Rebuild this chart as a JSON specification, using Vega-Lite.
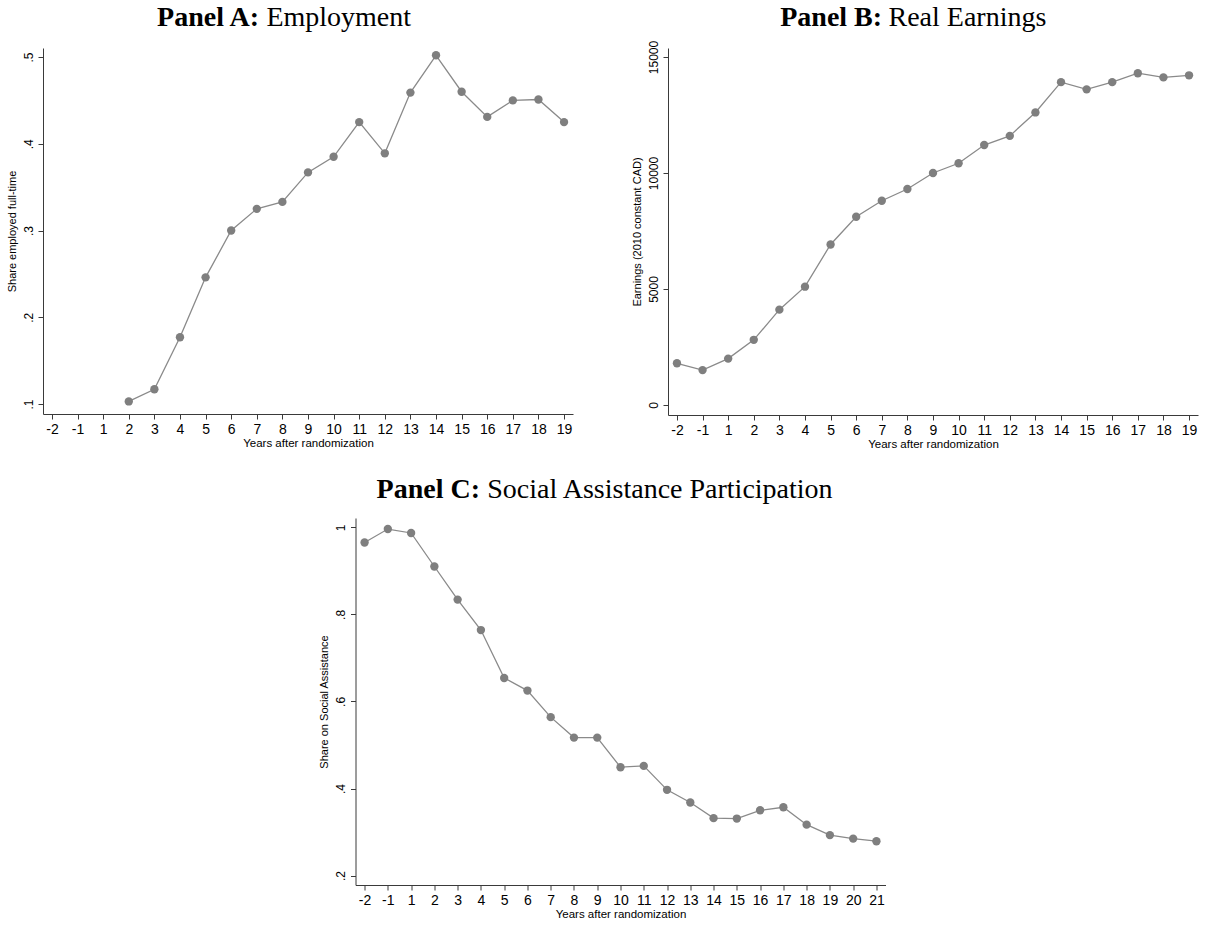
{
  "$schema": "https://vega.github.io/schema/vega-lite/v6.json",
  "background": "white",
  "padding": {"left": 6, "top": 4, "right": 4, "bottom": 0},
  "config": {
    "view": {"stroke": null},
    "font": "Liberation Sans",
    "axis": {
      "grid": false,
      "domainColor": "#3a3a3a",
      "tickColor": "#3a3a3a",
      "labelColor": "#000000",
      "titleColor": "#000000",
      "labelFont": "Liberation Sans",
      "titleFont": "Liberation Sans",
      "titleFontWeight": "normal",
      "tickSize": 5,
      "domainWidth": 1,
      "tickWidth": 1
    },
    "axisX": {"labelAngle": 0, "labelFontSize": 14, "labelPadding": 3, "titleFontSize": 11.5, "titlePadding": 1},
    "axisY": {"labelAngle": -90, "labelFontSize": 12, "labelPadding": 3, "titleFontSize": 11, "titlePadding": 5},
    "title": {
      "font": "Liberation Serif",
      "fontSize": 28,
      "color": "#000000",
      "anchor": "middle"
    },
    "line": {"color": "#8a8a8a", "strokeWidth": 1.3},
    "point": {"color": "#7f7f7f", "filled": true, "opacity": 1, "size": 70}
  },
  "datasets": {
    "emp": [
      {"year": "2", "share": 0.103},
      {"year": "3", "share": 0.117},
      {"year": "4", "share": 0.177},
      {"year": "5", "share": 0.246},
      {"year": "6", "share": 0.300},
      {"year": "7", "share": 0.325},
      {"year": "8", "share": 0.333},
      {"year": "9", "share": 0.367},
      {"year": "10", "share": 0.385},
      {"year": "11", "share": 0.425},
      {"year": "12", "share": 0.389},
      {"year": "13", "share": 0.459},
      {"year": "14", "share": 0.502},
      {"year": "15", "share": 0.460},
      {"year": "16", "share": 0.431},
      {"year": "17", "share": 0.450},
      {"year": "18", "share": 0.451},
      {"year": "19", "share": 0.425}
    ],
    "earn": [
      {"year": "-2", "earnings": 1800},
      {"year": "-1", "earnings": 1505},
      {"year": "1", "earnings": 2000},
      {"year": "2", "earnings": 2810},
      {"year": "3", "earnings": 4110},
      {"year": "4", "earnings": 5100},
      {"year": "5", "earnings": 6920},
      {"year": "6", "earnings": 8115},
      {"year": "7", "earnings": 8805},
      {"year": "8", "earnings": 9310},
      {"year": "9", "earnings": 10000},
      {"year": "10", "earnings": 10420},
      {"year": "11", "earnings": 11205},
      {"year": "12", "earnings": 11600},
      {"year": "13", "earnings": 12610},
      {"year": "14", "earnings": 13915},
      {"year": "15", "earnings": 13605},
      {"year": "16", "earnings": 13915},
      {"year": "17", "earnings": 14300},
      {"year": "18", "earnings": 14120},
      {"year": "19", "earnings": 14210}
    ],
    "sa": [
      {"year": "-2", "share": 0.965},
      {"year": "-1", "share": 0.996},
      {"year": "1", "share": 0.987},
      {"year": "2", "share": 0.910},
      {"year": "3", "share": 0.834},
      {"year": "4", "share": 0.764},
      {"year": "5", "share": 0.654},
      {"year": "6", "share": 0.625},
      {"year": "7", "share": 0.564},
      {"year": "8", "share": 0.517},
      {"year": "9", "share": 0.517},
      {"year": "10", "share": 0.449},
      {"year": "11", "share": 0.452},
      {"year": "12", "share": 0.397},
      {"year": "13", "share": 0.368},
      {"year": "14", "share": 0.332},
      {"year": "15", "share": 0.331},
      {"year": "16", "share": 0.350},
      {"year": "17", "share": 0.357},
      {"year": "18", "share": 0.317},
      {"year": "19", "share": 0.293},
      {"year": "20", "share": 0.285},
      {"year": "21", "share": 0.279}
    ]
  },
  "vconcat": [
    {
      "hconcat": [
        {
          "title": {"text": "Panel A:", "fontWeight": "bold", "align": "right", "dx": -30.5, "offset": -28},
          "vconcat": [
            {
              "title": {"text": "Employment", "fontWeight": "normal", "align": "left", "dx": -41.6, "offset": 16},
              "width": 530,
              "height": 366,
              "data": {"name": "emp"},
              "encoding": {
                "x": {
                  "field": "year", "type": "ordinal", "sort": null,
                  "scale": {"type": "point", "domain": ["-2","-1","1","2","3","4","5","6","7","8","9","10","11","12","13","14","15","16","17","18","19"], "padding": 0.35},
                  "axis": {"title": "Years after randomization"}
                },
                "y": {
                  "field": "share", "type": "quantitative",
                  "scale": {"domain": [0.0885, 0.5104], "nice": false, "zero": false},
                  "axis": {"title": "Share employed full-time", "values": [0.1, 0.2, 0.3, 0.4, 0.5], "labelExpr": "replace(format(datum.value, '~g'), '0.', '.')"}
                }
              },
              "layer": [
                {"mark": {"type": "line"}},
                {"mark": {"type": "point"}}
              ]
            }
          ]
        },
        {
          "title": {"text": "Panel B:", "fontWeight": "bold", "align": "right", "dx": -32.4, "offset": -28},
          "vconcat": [
            {
              "title": {"text": "Real Earnings", "fontWeight": "normal", "align": "left", "dx": -44.5, "offset": 8},
              "width": 530,
              "height": 367,
              "data": {"name": "earn"},
              "encoding": {
                "x": {
                  "field": "year", "type": "ordinal", "sort": null,
                  "scale": {"type": "point", "domain": ["-2","-1","1","2","3","4","5","6","7","8","9","10","11","12","13","14","15","16","17","18","19"], "padding": 0.35},
                  "axis": {"title": "Years after randomization"}
                },
                "y": {
                  "field": "earnings", "type": "quantitative",
                  "scale": {"domain": [-430, 15387], "nice": false, "zero": false},
                  "axis": {"title": "Earnings (2010 constant CAD)", "values": [0, 5000, 10000, 15000], "format": "d"}
                }
              },
              "layer": [
                {"mark": {"type": "line"}},
                {"mark": {"type": "point"}}
              ]
            }
          ]
        }
      ],
      "spacing": 58
    },
    {
      "title": {"text": "Panel C:", "fontWeight": "bold", "align": "right", "dx": -122, "offset": -28},
      "vconcat": [
        {
          "title": {"text": "Social Assistance Participation", "fontWeight": "normal", "align": "left", "dx": -133.2, "offset": 14},
          "width": 530,
          "height": 367,
          "data": {"name": "sa"},
          "encoding": {
            "x": {
              "field": "year", "type": "ordinal", "sort": null,
              "scale": {"type": "point", "domain": ["-2","-1","1","2","3","4","5","6","7","8","9","10","11","12","13","14","15","16","17","18","19","20","21"], "padding": 0.39},
              "axis": {"title": "Years after randomization"}
            },
            "y": {
              "field": "share", "type": "quantitative",
              "scale": {"domain": [0.1784, 1.0214], "nice": false, "zero": false},
              "axis": {"title": "Share on Social Assistance", "values": [0.2, 0.4, 0.6, 0.8, 1], "labelExpr": "replace(format(datum.value, '~g'), '0.', '.')"}
            }
          },
          "layer": [
            {"mark": {"type": "line"}},
            {"mark": {"type": "point"}}
          ]
        }
      ]
    }
  ],
  "spacing": 26,
  "center": true
}
